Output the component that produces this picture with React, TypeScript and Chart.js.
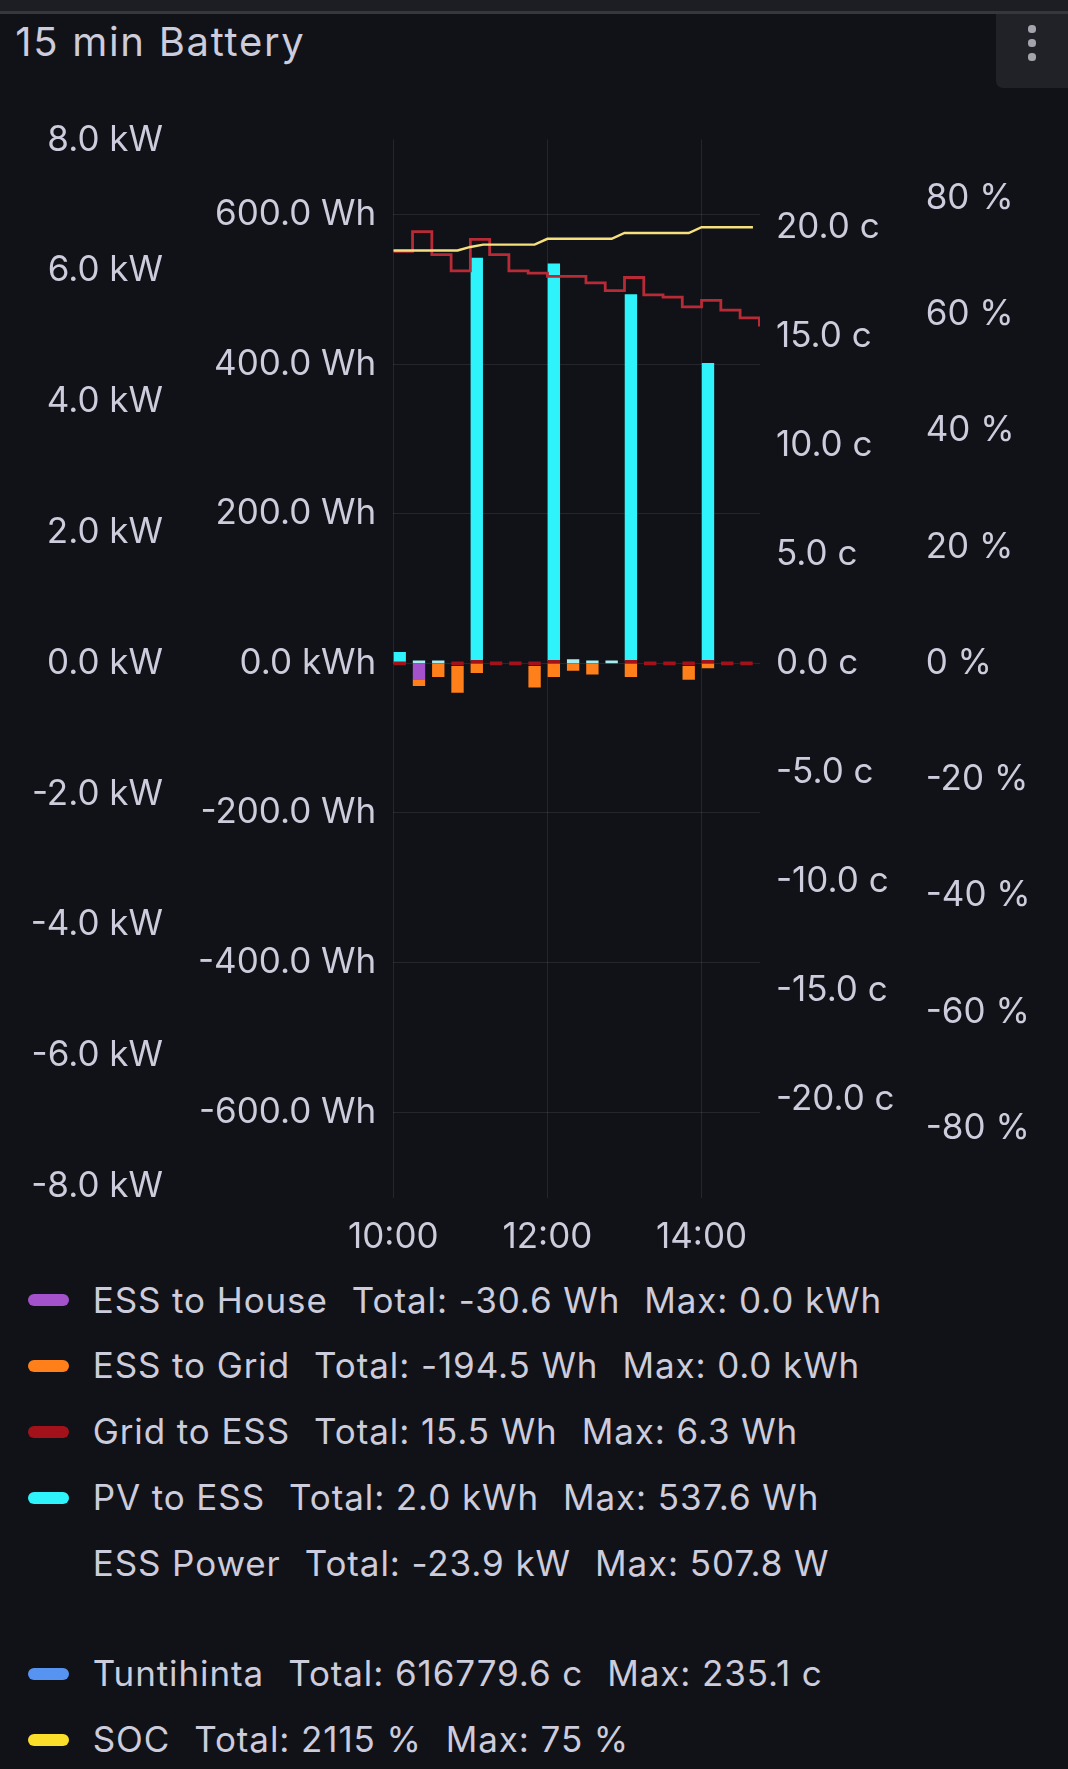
import React, { useEffect, useRef } from 'react';
import { Chart, registerables } from 'chart.js';

Chart.register(...registerables);

// ---------- data ----------
const QUARTER_TIMES = [
  '10:00', '10:15', '10:30', '10:45', '11:00', '11:15', '11:30', '11:45',
  '12:00', '12:15', '12:30', '12:45', '13:00', '13:15', '13:30', '13:45',
  '14:00', '14:15', '14:30', '14:45',
];
const BAR_TIMES = QUARTER_TIMES.slice(0, 19);

const GRID_TO_ESS = [0, null, null, 0, 3.5, 0, 0, 0, 3, null, null, null, 3.5, 0, 0, 0, 3, 0, 0];
const PV_TO_ESS = [14.7, 2.5, 2.5, null, 537.6, null, null, null, 530, 5, 2.5, 1, 489, null, null, null, 397, null, null];
const ESS_TO_HOUSE = [null, -22, null, null, null, null, null, null, null, null, null, null, null, null, null, null, null, null, null];
const ESS_TO_GRID = [null, -8, -18, -35, -12.5, null, null, -28, -18, -9.5, -14.5, null, -18, null, null, -17.5, -6, null, null];

const PRICE = [
  18.9, 19.8, 18.75, 18.0, 19.45, 18.75, 18.0, 17.9, 17.75, 17.75,
  17.45, 17.1, 17.7, 16.9, 16.8, 16.35, 16.65, 16.2, 15.85, 15.45,
];

const SOC_TIMES = [
  '10:00', '10:10', '10:20', '10:30', '10:40', '10:50',
  '11:00', '11:10', '11:20', '11:30', '11:40', '11:50',
  '12:00', '12:10', '12:20', '12:30', '12:40', '12:50',
  '13:00', '13:10', '13:20', '13:30', '13:40', '13:50',
  '14:00', '14:10', '14:20', '14:30', '14:40',
];
const SOC = [
  71, 71, 71, 71, 71, 71,
  71.6, 72, 72, 72, 72, 72,
  73, 73, 73, 73, 73, 73,
  74, 74, 74, 74, 74, 74,
  75, 75, 75, 75, 75,
];

const X_TICKS = ['10:00', '12:00', '14:00'];
const KW_TICKS = [8, 6, 4, 2, 0, -2, -4, -6, -8];
const KW_LABELS = ['8.0 kW', '6.0 kW', '4.0 kW', '2.0 kW', '0.0 kW', '-2.0 kW', '-4.0 kW', '-6.0 kW', '-8.0 kW'];
const WH_TICKS = [600, 400, 200, 0, -200, -400, -600];
const WH_LABELS = ['600.0 Wh', '400.0 Wh', '200.0 Wh', '0.0 kWh', '-200.0 Wh', '-400.0 Wh', '-600.0 Wh'];
const C_TICKS = [20, 15, 10, 5, 0, -5, -10, -15, -20];
const C_LABELS = ['20.0 c', '15.0 c', '10.0 c', '5.0 c', '0.0 c', '-5.0 c', '-10.0 c', '-15.0 c', '-20.0 c'];
const P_TICKS = [80, 60, 40, 20, 0, -20, -40, -60, -80];
const P_LABELS = ['80 %', '60 %', '40 %', '20 %', '0 %', '-20 %', '-40 %', '-60 %', '-80 %'];

const LEGEND_NAMES = ['ESS to House', 'ESS to Grid', 'Grid to ESS', 'PV to ESS', 'ESS Power', 'Tuntihinta', 'SOC'];
const LEGEND_TOTALS = ['-30.6 Wh', '-194.5 Wh', '15.5 Wh', '2.0 kWh', '-23.9 kW', '616779.6 c', '2115 %'];
const LEGEND_MAXES = ['0.0 kWh', '0.0 kWh', '6.3 Wh', '537.6 Wh', '507.8 W', '235.1 c', '75 %'];

// ---------- styles ----------
const BG = '#111217';
const TEXT = '#CCCCDC';
const GRID = 'rgba(204,204,220,0.11)';
const PURPLE = '#A352CC';
const ORANGE = '#FF7F1A';
const DARK_RED = '#A3121A';
const CYAN = '#2EF3FB';
const PALE_CYAN = '#A6EEF2';
const BLUE = '#5794F2';
const YELLOW = '#FADE2A';
const YELLOW_LINE = '#F6E07E';
const RED_LINE = '#B72A36';
const LEGEND_COLORS = [PURPLE, ORANGE, DARK_RED, CYAN, null, BLUE, YELLOW];

const FONT = 'Inter';
const TICK_SIZE = 35;
const LEGEND_SIZE = 35;
const BAR_SHIFT_MIN = 5; // bars are drawn "after" their timestamp

const toMin = (s: string) => {
  const [h, m] = s.split(':').map(Number);
  return h * 60 + m;
};
const fmtTime = (v: number) => `${Math.floor(v / 60)}:${String(v % 60).padStart(2, '0')}`;

const labelFor = (ticks: number[], labels: string[]) => (v: any) => {
  const i = ticks.indexOf(Number(v));
  return i >= 0 ? labels[i] : '';
};
const setTicks = (vals: number[]) => (scale: any) => {
  scale.ticks = vals.map((v) => ({ value: v }));
};

export default function App() {
  const ref = useRef<HTMLCanvasElement>(null);

  useEffect(() => {
    document.body.style.margin = '0';
    document.body.style.background = BG;
    if (!ref.current) return;

    const barData = (vals: (number | null)[]) =>
      BAR_TIMES.map((t, i) => ({ x: toMin(t) + BAR_SHIFT_MIN, y: vals[i] }));

    const tickFont = { family: FONT, size: TICK_SIZE };

    const chart = new Chart(ref.current, {
      type: 'bar',
      data: {
        datasets: [
          {
            type: 'line',
            label: 'Tuntihinta',
            data: QUARTER_TIMES.map((t, i) => ({ x: toMin(t), y: PRICE[i] })),
            yAxisID: 'yC',
            borderColor: RED_LINE,
            borderWidth: 2.8,
            stepped: 'before',
            pointRadius: 0,
            fill: false,
            order: 1,
          } as any,
          {
            type: 'line',
            label: 'SOC',
            data: SOC_TIMES.map((t, i) => ({ x: toMin(t), y: SOC[i] })),
            yAxisID: 'yP',
            borderColor: YELLOW_LINE,
            borderWidth: 2.4,
            pointRadius: 0,
            tension: 0,
            fill: false,
            order: 0,
          } as any,
          {
            type: 'bar',
            label: 'Grid to ESS',
            data: barData(GRID_TO_ESS),
            yAxisID: 'yWh',
            backgroundColor: DARK_RED,
            barThickness: 11.7,
            minBarLength: 3,
            order: 2,
          } as any,
          {
            type: 'bar',
            label: 'PV to ESS',
            data: barData(PV_TO_ESS),
            yAxisID: 'yWh',
            backgroundColor: (c: any) => (c.raw && c.raw.y !== null && c.raw.y < 8 ? PALE_CYAN : CYAN),
            barThickness: 11.7,
            minBarLength: 2.5,
            order: 3,
          } as any,
          {
            type: 'bar',
            label: 'ESS to House',
            data: barData(ESS_TO_HOUSE),
            yAxisID: 'yWh',
            backgroundColor: PURPLE,
            barThickness: 11.7,
            order: 4,
          } as any,
          {
            type: 'bar',
            label: 'ESS to Grid',
            data: barData(ESS_TO_GRID),
            yAxisID: 'yWh',
            backgroundColor: ORANGE,
            barThickness: 11.7,
            order: 5,
          } as any,
        ],
      },
      options: {
        animation: false,
        responsive: false,
        layout: { padding: { top: 39.5, left: 0, right: 0, bottom: 0 } },
        plugins: { legend: { display: false }, tooltip: { enabled: false } },
        scales: {
          x: {
            type: 'linear',
            min: 600,
            max: 885.5,
            offset: false,
            stacked: true,
            grid: { color: GRID, drawTicks: false, lineWidth: 1, offset: false },
            border: { display: false },
            ticks: {
              color: TEXT,
              font: tickFont,
              padding: 18,
              maxRotation: 0,
              autoSkip: false,
              callback: (v: any) => fmtTime(Number(v)),
            },
            afterBuildTicks: setTicks(X_TICKS.map(toMin)),
            afterFit: (s: any) => {
              s.height = 62;
            },
          },
          yKW: {
            type: 'linear',
            position: 'left',
            weight: 2,
            min: -8.176,
            max: 8.009,
            grid: { display: false, drawTicks: false },
            border: { display: false },
            ticks: { color: TEXT, font: tickFont, padding: 17, callback: labelFor(KW_TICKS, KW_LABELS) },
            afterBuildTicks: setTicks(KW_TICKS),
            afterFit: (s: any) => {
              s.width = 180;
            },
          },
          yWh: {
            type: 'linear',
            position: 'left',
            weight: 1,
            stacked: true,
            min: -714.8,
            max: 700.3,
            grid: { color: GRID, drawTicks: false, lineWidth: 1 },
            border: { display: false },
            ticks: { color: TEXT, font: tickFont, padding: 17, callback: labelFor(WH_TICKS, WH_LABELS) },
            afterBuildTicks: setTicks(WH_TICKS),
            afterFit: (s: any) => {
              s.width = 213.3;
            },
          },
          yC: {
            type: 'linear',
            position: 'right',
            weight: 1,
            min: -24.53,
            max: 24.03,
            grid: { display: false, drawTicks: false },
            border: { display: false },
            ticks: { color: TEXT, font: tickFont, padding: 16, callback: labelFor(C_TICKS, C_LABELS) },
            afterBuildTicks: setTicks(C_TICKS),
            afterFit: (s: any) => {
              s.width = 150;
            },
          },
          yP: {
            type: 'linear',
            position: 'right',
            weight: 2,
            min: -91.95,
            max: 90.08,
            grid: { display: false, drawTicks: false },
            border: { display: false },
            ticks: { color: TEXT, font: tickFont, padding: 15.7, callback: labelFor(P_TICKS, P_LABELS) },
            afterBuildTicks: setTicks(P_TICKS),
            afterFit: (s: any) => {
              s.width = 158;
            },
          },
        },
      } as any,
    });

    return () => chart.destroy();
  }, []);

  const rowMid = (i: number) => 1300 + 65.85 * i + (i >= 5 ? 44.5 : 0);

  return (
    <div
      style={{
        position: 'relative',
        width: 1068,
        height: 1769,
        background: BG,
        overflow: 'hidden',
        fontFamily: FONT,
        color: TEXT,
      }}
    >
      <div style={{ position: 'absolute', left: 0, top: 0, width: 1068, height: 11, background: '#1c1e24' }} />
      <div style={{ position: 'absolute', left: 0, top: 11, width: 1068, height: 3, background: '#36373d' }} />
      <div
        style={{
          position: 'absolute',
          left: 15.3,
          top: 42 - 20,
          fontSize: 40,
          lineHeight: '40px',
          letterSpacing: '1.7px',
          whiteSpace: 'nowrap',
        }}
      >
        15 min Battery
      </div>
      <div
        style={{
          position: 'absolute',
          left: 996,
          top: 14,
          width: 72,
          height: 74,
          background: '#202228',
          borderBottomLeftRadius: 7,
        }}
      >
        {[29, 43, 57].map((y) => (
          <div
            key={y}
            style={{
              position: 'absolute',
              left: 36 - 3.6,
              top: y - 14 - 3.6,
              width: 7.2,
              height: 7.2,
              borderRadius: '50%',
              background: '#a3a4ac',
            }}
          />
        ))}
      </div>
      <canvas
        ref={ref}
        width={1068}
        height={1160}
        style={{ position: 'absolute', left: 0, top: 100, width: 1068, height: 1160 }}
      />
      {LEGEND_NAMES.map((name, i) => (
        <div
          key={name}
          style={{
            position: 'absolute',
            left: 0,
            top: rowMid(i) - LEGEND_SIZE / 2,
            height: LEGEND_SIZE,
            width: 1068,
            fontSize: LEGEND_SIZE,
            lineHeight: `${LEGEND_SIZE}px`,
            letterSpacing: '0.9px',
            whiteSpace: 'nowrap',
          }}
        >
          {LEGEND_COLORS[i] && (
            <div
              style={{
                position: 'absolute',
                left: 27.5,
                top: LEGEND_SIZE / 2 - 6,
                width: 41.5,
                height: 12,
                borderRadius: 6,
                background: LEGEND_COLORS[i] as string,
              }}
            />
          )}
          <div style={{ position: 'absolute', left: 92.7, top: 0, display: 'flex' }}>
            <span>{name}</span>
            <span style={{ marginLeft: 24 }}>Total: {LEGEND_TOTALS[i]}</span>
            <span style={{ marginLeft: 24 }}>Max: {LEGEND_MAXES[i]}</span>
          </div>
        </div>
      ))}
    </div>
  );
}
